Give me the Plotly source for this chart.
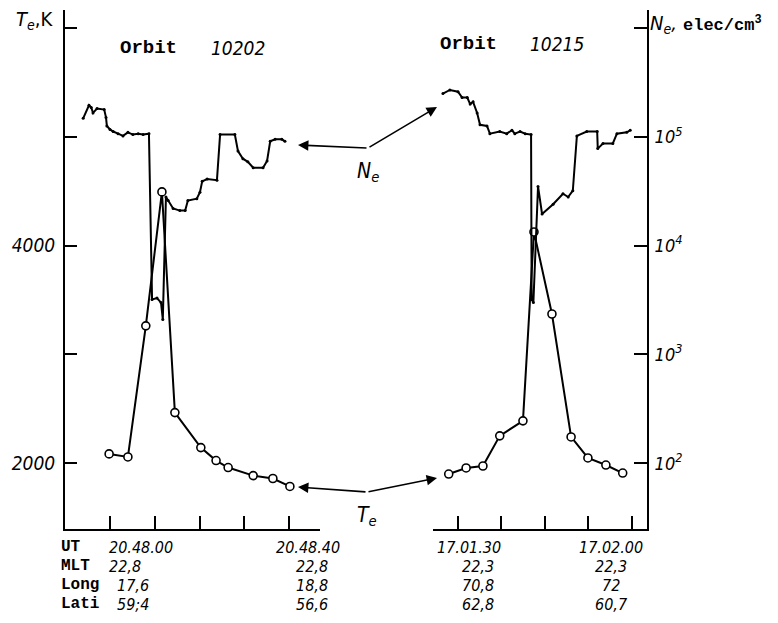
import plotly.graph_objects as go

# ---------------- data ----------------
# Orbit 10202 : time in seconds after 20.48.00 UT
TE_LEFT_T = [-0.2, 4.0, 8.0, 11.6, 14.5, 20.3, 23.7, 26.4, 32.0, 36.4, 40.2]
TE_LEFT = [2086, 2058, 3263, 4494, 2466, 2144, 2025, 1961, 1887, 1860, 1787]

NE_LEFT_T = [-6.0, -4.7, -4.2, -3.8, -2.9, -1.3, -0.9, -0.7, 0.0, 0.7, 1.8, 2.9,
             4.0, 5.1, 6.3, 7.4, 8.7, 9.4, 10.5, 11.4, 11.8, 12.5, 13.0, 14.1,
             15.6, 16.8, 17.4, 19.4, 20.1, 20.6, 21.7, 23.9, 24.6, 27.9, 28.6,
             29.7, 30.8, 32.0, 34.2, 35.1, 35.8, 36.9, 38.4, 39.1]
NE_LEFT = [1.48e5, 1.95e5, 1.86e5, 1.66e5, 1.82e5, 1.78e5, 1.51e5, 1.26e5,
           1.17e5, 1.12e5, 1.07e5, 1.02e5, 1.10e5, 1.05e5, 1.07e5, 1.05e5,
           1.07e5, 3.2e3, 3.3e3, 3.0e3, 2.1e3, 2.8e4, 2.6e4, 2.2e4, 2.1e4,
           2.1e4, 2.6e4, 2.7e4, 3.1e4, 3.9e4, 4.1e4, 4.0e4, 1.05e5, 1.05e5,
           7.4e4, 6.3e4, 5.9e4, 5.2e4, 5.2e4, 6.0e4, 9.1e4, 9.5e4, 9.5e4, 9.1e4]

# Orbit 10215 : time in seconds after 17.01.30 UT
TE_RIGHT_T = [-1.6, 1.4, 4.3, 7.2, 11.2, 13.1, 16.2, 19.5, 22.4, 25.5, 28.4]
TE_RIGHT = [1901, 1957, 1975, 2252, 2390, 4126, 3372, 2242, 2049, 1984, 1910]

NE_RIGHT_T = [-2.6, -1.4, 0.0, 0.7, 1.6, 2.1, 2.6, 3.3, 3.8, 5.0, 5.5, 7.2,
              8.4, 9.3, 9.8, 10.7, 11.6, 12.6, 12.7, 13.0, 13.8, 14.5, 16.4,
              18.1, 19.0, 19.8, 20.5, 22.2, 24.0, 24.1, 25.0, 26.7, 27.4,
              29.1, 29.7]
NE_RIGHT = [2.5e5, 2.7e5, 2.6e5, 2.3e5, 2.3e5, 2.0e5, 2.1e5, 1.66e5, 1.29e5,
            1.26e5, 1.07e5, 1.12e5, 1.07e5, 1.15e5, 1.07e5, 1.12e5, 1.07e5,
            1.05e5, 3.2e3, 3.0e3, 3.5e4, 1.95e4, 2.4e4, 3.0e4, 2.8e4, 3.2e4,
            1.02e5, 1.12e5, 1.12e5, 7.8e4, 8.7e4, 8.7e4, 1.07e5, 1.10e5, 1.15e5]

TE_TICKS = [2000, 3000, 4000, 5000, 6000]
TE_TICKTEXT = ["<i>2000</i>", "", "<i>4000</i>", "", ""]
NE_TICKS = [1e2, 1e3, 1e4, 1e5, 1e6]
NE_TICKTEXT = ["<i>10<sup>2</sup></i>", "<i>10<sup>3</sup></i>",
               "<i>10<sup>4</sup></i>", "<i>10<sup>5</sup></i>", ""]
LEFT_XTICKS = [0, 10, 20, 30, 40]
RIGHT_XTICKS = [0, 7.5, 15, 22.5, 30]

ROW_NAMES = ["UT", "MLT", "Long", "Lati"]
COL1 = ["20.48.00", "22,8", "17,6", "59;4"]
COL2 = ["20.48.40", "22,8", "18,8", "56,6"]
COL3 = ["17.01.30", "22,3", "70,8", "62,8"]
COL4 = ["17.02.00", "22,3", "72", "60,7"]

# ---------------- figure ----------------
W, H = 778, 623
def px(x):
    return x / W
def py(y):
    return 1 - y / H

MONO = "Liberation Mono, Courier New, monospace"
NARROW = "DejaVu Sans Condensed, Liberation Sans Narrow, Liberation Sans, Arial"

fig = go.Figure()

line_style = dict(color="black", width=2)
fig.add_trace(go.Scatter(x=NE_LEFT_T, y=NE_LEFT, xaxis="x", yaxis="y2",
                         mode="lines+markers", line=line_style,
                         marker=dict(size=3, color="black"), showlegend=False))
fig.add_trace(go.Scatter(x=NE_RIGHT_T, y=NE_RIGHT, xaxis="x2", yaxis="y2",
                         mode="lines+markers", line=line_style,
                         marker=dict(size=3, color="black"), showlegend=False))
te_marker = dict(symbol="circle", size=8, color="white",
                 line=dict(color="black", width=1.6))
fig.add_trace(go.Scatter(x=TE_LEFT_T, y=TE_LEFT, xaxis="x", yaxis="y",
                         mode="lines+markers", line=line_style,
                         marker=te_marker, showlegend=False))
fig.add_trace(go.Scatter(x=TE_RIGHT_T, y=TE_RIGHT, xaxis="x2", yaxis="y",
                         mode="lines+markers", line=line_style,
                         marker=te_marker, showlegend=False))

ydom = [py(529), py(10)]
common_x = dict(showline=True, linecolor="black", linewidth=2, ticks="inside",
                ticklen=13, tickwidth=1.5, tickcolor="black",
                showticklabels=False, showgrid=False, zeroline=False,
                anchor="y")

fig.update_layout(
    width=W, height=H,
    margin=dict(l=0, r=0, t=0, b=0),
    paper_bgcolor="white", plot_bgcolor="rgba(0,0,0,0)",
    showlegend=False,
    xaxis=dict(domain=[px(65), px(320)], range=[-10.06, 46.93],
               tickvals=LEFT_XTICKS, **common_x),
    xaxis2=dict(domain=[px(433), px(647)], range=[-4.31, 32.59],
                tickvals=RIGHT_XTICKS, **common_x),
    yaxis=dict(domain=ydom, range=[1396, 6166], anchor="x", side="left",
               showline=True, linecolor="black", linewidth=2,
               ticks="inside", ticklen=12, tickwidth=1.5, tickcolor="black",
               tickvals=TE_TICKS, ticktext=TE_TICKTEXT,
               tickfont=dict(family=NARROW, size=19, color="black"),
               showgrid=False, zeroline=False, ticklabelstandoff=4),
    yaxis2=dict(domain=ydom, type="log", range=[1.396, 6.166], anchor="x2",
                overlaying="y", side="right",
                showline=True, linecolor="black", linewidth=2,
                ticks="inside", ticklen=13, tickwidth=1.5, tickcolor="black",
                tickvals=NE_TICKS, ticktext=NE_TICKTEXT,
                tickfont=dict(family=NARROW, size=18, color="black"),
                showgrid=False, zeroline=False, ticklabelstandoff=2),
)

ann = []
def text(x, y, s, family, size, anchor="center", italic=False, bold=False):
    if italic:
        s = "<i>" + s + "</i>"
    if bold:
        s = "<b>" + s + "</b>"
    ann.append(dict(x=px(x), y=py(y), xref="paper", yref="paper", text=s,
                    showarrow=False, xanchor=anchor, yanchor="middle",
                    font=dict(family=family, size=size, color="black")))

# axis titles
text(14, 20, "<i>T<sub>e</sub></i>,K", NARROW, 20, anchor="left")
text(648, 24, "N<sub>e</sub>,", NARROW, 20, anchor="left", italic=True)
text(681, 24, "elec/cm<sup>3</sup>", MONO, 17, anchor="left", bold=True)

# orbit labels
text(118, 48, "Orbit", MONO, 19, anchor="left", bold=True)
text(209, 48, "10202", NARROW, 19, anchor="left", italic=True)
text(438, 44, "Orbit", MONO, 19, anchor="left", bold=True)
text(528, 44, "10215", NARROW, 19, anchor="left", italic=True)

# curve labels
text(368, 172, "N<sub>e</sub>", NARROW, 21, italic=True)
text(367, 516, "T<sub>e</sub>", NARROW, 21, italic=True)

# bottom table
rows_y = [547, 566, 585, 604]
for i, yy in enumerate(rows_y):
    text(59, yy, ROW_NAMES[i], MONO, 16, anchor="left", bold=True)
    text(107 if i < 2 else 115, yy, COL1[i], NARROW, 16, anchor="left", italic=True)
    text(342 if i == 0 else 330, yy, COL2[i], NARROW, 16, anchor="right", italic=True)
    text(469 if i == 0 else 478, yy, COL3[i], NARROW, 16, italic=True)
    text(611, yy, COL4[i], NARROW, 16, italic=True)

# arrows (tail at junction, head at tip), pixel offsets
def arrow(hx, hy, tx, ty):
    ann.append(dict(x=px(hx), y=py(hy), xref="paper", yref="paper",
                    ax=tx - hx, ay=ty - hy, axref="pixel", ayref="pixel",
                    text="", showarrow=True, arrowhead=2, arrowsize=1.3,
                    arrowwidth=1.6, arrowcolor="black"))

arrow(298, 145, 368, 148)
arrow(437, 107, 368, 148)
arrow(298, 487, 367, 492)
arrow(437, 478, 367, 492)

fig.update_layout(annotations=ann)

# remove the default page margin so the 778x623 figure fills the window
fig.write_html("out.html", config={"displayModeBar": False},
               post_script="document.body.style.margin='0';"
                           "document.body.style.overflow='hidden';")
